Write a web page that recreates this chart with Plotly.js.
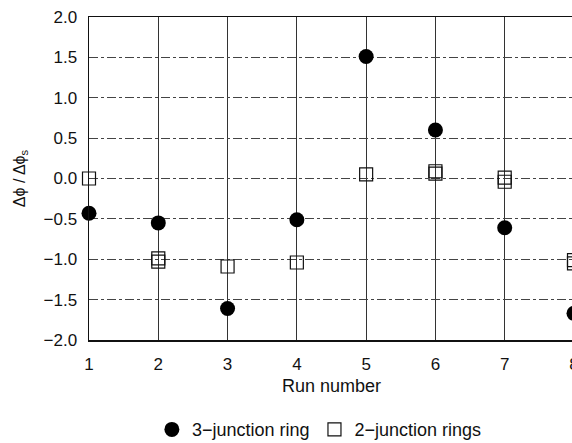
<!DOCTYPE html>
<html>
<head>
<meta charset="utf-8">
<script src="https://cdn.plot.ly/plotly-3.0.1.min.js"></script>
<style>
html,body{margin:0;padding:0;overflow:hidden;background:#fff;width:572px;height:443px;}
#chart{width:590px;height:443px;}
</style>
</head>
<body>
<div id="chart"></div>
<script>
const runs3 = [1, 2, 3, 4, 5, 6, 7, 8];
const ring3 = [-0.43, -0.55, -1.61, -0.51, 1.51, 0.60, -0.61, -1.67];
const runs2 = [1, 2, 2, 3, 4, 5, 6, 6, 7, 7, 8, 8];
const ring2 = [0.00, -0.99, -1.03, -1.09, -1.04, 0.05, 0.06, 0.09, 0.01, -0.04, -1.01, -1.05];
const xTicks = [1, 2, 3, 4, 5, 6, 7, 8];
const yTicks = [-2.0, -1.5, -1.0, -0.5, 0.0, 0.5, 1.0, 1.5, 2.0];
const yTickText = ['\u22122.0', '\u22121.5', '\u22121.0', '\u22120.5', '0.0', '0.5', '1.0', '1.5', '2.0'];

const fam = 'Liberation Sans, Arial, sans-serif';
const ink = '#111';

const traces = [
  {
    x: runs3, y: ring3, type: 'scatter', mode: 'markers', name: '3\u2212junction ring',
    marker: {symbol: 'circle', size: 15, color: '#000'}, cliponaxis: false
  },
  {
    x: runs2, y: ring2, type: 'scatter', mode: 'markers', name: '2\u2212junction rings',
    marker: {symbol: 'square-open', size: 13, color: ink, line: {width: 1.2, color: ink}}, cliponaxis: false
  }
];

const layout = {
  width: 590, height: 443,
  margin: {l: 89, r: 16, t: 17, b: 103, autoexpand: false},
  paper_bgcolor: '#fff', plot_bgcolor: '#fff',
  font: {family: fam, color: ink, size: 17},
  showlegend: true,
  legend: {orientation: 'h', x: 0.475, xanchor: 'center', yref: 'container', y: 0.03, yanchor: 'middle',
           font: {family: fam, size: 18, color: ink}, itemwidth: 30, tracegroupgap: 0},
  xaxis: {
    range: [1, 8], tickvals: xTicks, ticktext: xTicks.map(String), automargin: false,
    showgrid: true, gridcolor: '#333', gridwidth: 1,
    showline: true, mirror: true, linecolor: ink, linewidth: 1.5,
    zeroline: false, ticks: '', ticklabelstandoff: 8,
    tickfont: {family: fam, size: 17, color: ink},
    title: {text: 'Run number', font: {family: fam, size: 18, color: ink}, standoff: 6}
  },
  yaxis: {
    range: [-2, 2], tickvals: yTicks, ticktext: yTickText, automargin: false,
    showgrid: true, gridcolor: '#444', gridwidth: 1, griddash: 'dashdot',
    showline: true, mirror: true, linecolor: ink, linewidth: 1.5,
    zeroline: false, ticks: '', ticklabelstandoff: 7,
    tickfont: {family: fam, size: 17, color: ink},
    title: {text: '\u0394\u03d5 / \u0394\u03d5<sub>s</sub>', font: {family: fam, size: 16, color: ink}, standoff: 14}
  }
};

Plotly.newPlot('chart', traces, layout, {displayModeBar: false, staticPlot: true});
</script>
</body>
</html>
